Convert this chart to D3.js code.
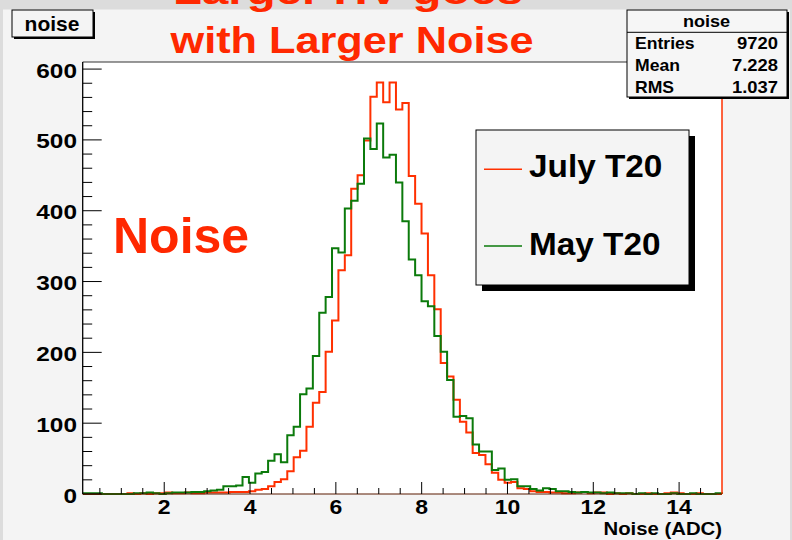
<!DOCTYPE html>
<html><head><meta charset="utf-8">
<script src="https://cdn.jsdelivr.net/npm/d3@7"></script>
<style>
body{margin:0;background:#dcdcdc;}
svg{display:block;}
text{font-family:"Liberation Sans",Arial,Helvetica,sans-serif;font-weight:bold;}
</style>
</head><body>
<svg id="c" width="792" height="540"></svg>
<script>
// ---- data ----
const xRange = [0.1, 15];
const nBins = 100;
const julyT20 = [
 0,0,0,0,0,0,0,1,0,1, 0,1,1,2,1,1,2,1,1,2,
 2,2,2,3,3,3,4,6,7,11, 17,21,32,52,61,95,129,144,201,245,
 316,337,431,450,499,561,581,553,581,543, 552,449,410,368,309,261,185,166,133,102,
 87,58,55,42,30,20,16,17,8,7, 4,3,3,2,2,1,1,2,3,1,
 2,2,0,1,0,1,0,0,1,0, 0,1,2,1,0,0,1,0,0,0];
const mayT20 = [
 1,1,1,0,0,0,0,0,1,1, 2,1,0,1,2,2,2,3,3,4,
 5,6,11,11,12,24,16,29,31,47, 56,45,83,95,141,149,195,256,278,347,
 341,403,414,438,502,487,523,475,479,440, 385,331,309,272,265,223,201,161,109,110,
 107,70,60,60,34,36,20,21,11,11, 7,5,8,7,4,4,3,2,3,2,
 2,1,2,1,1,1,0,1,0,1, 0,0,1,0,0,1,0,0,0,1];
const yMax = 610;
const yTicks = [0,100,200,300,400,500,600];
const xTicks = [2,4,6,8,10,12,14];
const legendLabels = ["July T20","May T20"];
const statsTitle = "noise";
const statsLabels = ["Entries","Mean","RMS"];
const statsValues = ["9720","7.228","1.037"];
const titleLines = ["Larger HV goes","with Larger Noise"];
const xTitle = "Noise (ADC)";

// ---- layout ----
const svg = d3.select("#c");
const fL=82.7, fR=722, fT=62, fB=494;
const x = d3.scaleLinear().domain(xRange).range([fL,fR]);
const y = d3.scaleLinear().domain([0,yMax]).range([fB,fT]);
const RED="#ff3000", GREEN="#0b7a0b", TRED="#ff2800";

function txt(g, px, py, s, size, anchor, fill, sx){
  return g.append("text").attr("transform",`translate(${px},${py}) scale(${sx||1},1)`)
    .attr("text-anchor",anchor||"start").attr("font-size",size).attr("fill",fill||"#000").text(s);
}

// pad
svg.append("rect").attr("x",0).attr("y",0).attr("width",792).attr("height",540).attr("fill","#dcdcdc");
svg.append("rect").attr("x",3).attr("y",9.5).attr("width",787).attr("height",531).attr("fill","#f4f4f4");

// frame interior
svg.append("rect").attr("x",fL).attr("y",fT).attr("width",fR-fL).attr("height",fB-fT).attr("fill","#fff");

svg.append("clipPath").attr("id","clip").append("rect")
  .attr("x",fL).attr("y",fT-1).attr("width",fR-fL+1).attr("height",fB-fT+2);

// histograms
const edges = d3.range(nBins+1).map(i=>xRange[0]+i*(xRange[1]-xRange[0])/nBins);
function pts(vals){
  const p=[[edges[0],0]];
  vals.forEach((v,i)=>p.push([edges[i],v]));
  p.push([edges[nBins],0]);
  return p;
}
const line = d3.line().x(d=>x(d[0])).y(d=>y(d[1])).curve(d3.curveStepAfter);
const hg = svg.append("g").attr("clip-path","url(#clip)");
hg.append("path").attr("d",line(pts(julyT20))).attr("fill","none").attr("stroke",RED).attr("stroke-width",2);
hg.append("path").attr("d",line(pts(mayT20))).attr("fill","none").attr("stroke",GREEN).attr("stroke-width",2);

// frame border
svg.append("line").attr("x1",fL).attr("x2",fR).attr("y1",fT).attr("y2",fT).attr("stroke","#333").attr("stroke-width",1);
svg.append("line").attr("x1",fL).attr("x2",fL).attr("y1",fT).attr("y2",fB).attr("stroke","#000").attr("stroke-width",1.3);
svg.append("line").attr("x1",fR).attr("x2",fR).attr("y1",fT).attr("y2",fB).attr("stroke",RED).attr("stroke-width",1.5);
svg.append("line").attr("x1",fL).attr("x2",fR).attr("y1",fB).attr("y2",fB).attr("stroke","#5a1a00").attr("stroke-width",1.2);

// y axis ticks
const yMinor = d3.range(0,yMax+0.1,20);
svg.append("g").selectAll("line").data(yMinor).join("line")
  .attr("x1",fL).attr("x2",d=>fL+(d%100===0?19:9.5)).attr("y1",d=>y(d)).attr("y2",d=>y(d))
  .attr("stroke","#000").attr("stroke-width",1);
const ax = svg.append("g");
yTicks.forEach(t=>txt(ax,77,y(t)+8.5,String(t),20,"end","#000",1.22));

// x axis ticks
const xMinor = d3.range(0.5,15,0.5);
svg.append("g").selectAll("line").data(xMinor).join("line")
  .attr("x1",d=>x(d)).attr("x2",d=>x(d)).attr("y1",fB)
  .attr("y2",d=>fB-(xTicks.includes(d)?12:6)).attr("stroke","#000").attr("stroke-width",1);
xTicks.forEach(t=>txt(ax,x(t),514,String(t),19.5,"middle","#000",1.18));
txt(ax,fR,535,xTitle,18,"end","#000",1.13);

// title
const tg = svg.append("g");
txt(tg,348,4,titleLines[0],37,"middle",TRED,1.28);
txt(tg,352,53,titleLines[1],37,"middle",TRED,1.17);

// top-left label box
svg.append("rect").attr("x",14).attr("y",12).attr("width",81).attr("height",27).attr("fill","#000");
svg.append("rect").attr("x",12).attr("y",10).attr("width",81).attr("height",27).attr("fill","#f4f4f4").attr("stroke","#000").attr("stroke-width",1);
txt(svg,52,31,statsTitle,21,"middle","#000",1);

// stats box
const sg = svg.append("g");
sg.append("rect").attr("x",629).attr("y",12).attr("width",160).attr("height",87).attr("fill","#000");
sg.append("rect").attr("x",627).attr("y",10).attr("width",160).attr("height",87).attr("fill","#f6f6f6").attr("stroke","#000").attr("stroke-width",1);
sg.append("line").attr("x1",627).attr("x2",787).attr("y1",32.3).attr("y2",32.3).attr("stroke","#000");
txt(sg,706.5,27.3,statsTitle,16,"middle","#000",1.13);
const rowY=[49,71,92.7];
statsLabels.forEach((s,i)=>{
  txt(sg,635,rowY[i],s,16,"start","#000",1.1);
  txt(sg,778,rowY[i],statsValues[i],16,"end","#000",1.15);
});

// legend
const lg = svg.append("g");
lg.append("rect").attr("x",482).attr("y",136).attr("width",213).attr("height",155).attr("fill","#000");
lg.append("rect").attr("x",476).attr("y",130).attr("width",213).attr("height",155).attr("fill","#f4f4f4").attr("stroke","#000").attr("stroke-width",1);
const legColors=[RED,GREEN], legLineY=[169.3,246], legTextY=[177,255];
legendLabels.forEach((s,i)=>{
  lg.append("line").attr("x1",484).attr("x2",522).attr("y1",legLineY[i]).attr("y2",legLineY[i])
    .attr("stroke",legColors[i]).attr("stroke-width",1.6);
  txt(lg,529,legTextY[i],s,31,"start","#000",1.075);
});

// big "Noise" label
txt(svg,113,253,"Noise",50,"start",TRED,1);
</script>
</body></html>
